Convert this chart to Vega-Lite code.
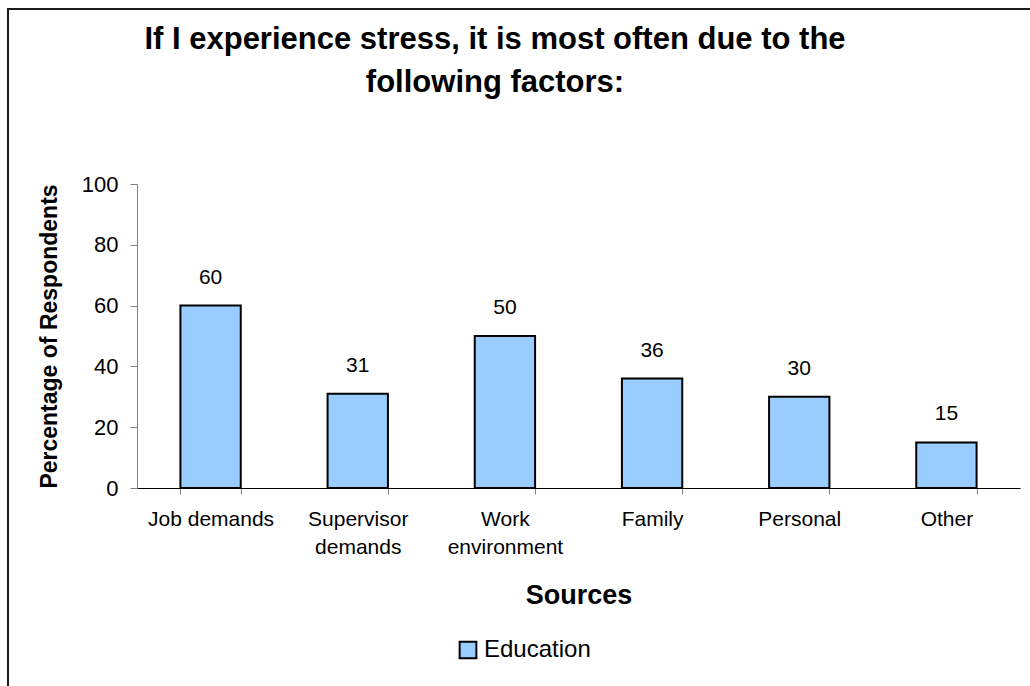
{
  "$schema": "https://vega.github.io/schema/vega-lite/v6.json",
  "width": 1040,
  "height": 700,
  "autosize": {"type": "none"},
  "padding": {"left": 8, "top": 9, "right": 0, "bottom": 0},
  "background": "white",
  "config": {
    "font": "Liberation Sans",
    "view": {"stroke": "#1a1a1a", "strokeWidth": 2, "fill": "white"}
  },
  "title": {
    "text": ["If I experience stress, it is most often due to the", "following factors:"],
    "font": "Liberation Sans",
    "fontSize": 31,
    "fontWeight": "bold",
    "color": "black",
    "anchor": "middle",
    "frame": "group",
    "baseline": "top",
    "dx": -33,
    "dy": 73,
    "offset": -17,
    "lineHeight": 43
  },
  "data": {
    "values": [
      {"source": "Job demands", "pct": 60, "series": "Education"},
      {"source": "Supervisor demands", "pct": 31, "series": "Education"},
      {"source": "Work environment", "pct": 50, "series": "Education"},
      {"source": "Family", "pct": 36, "series": "Education"},
      {"source": "Personal", "pct": 30, "series": "Education"},
      {"source": "Other", "pct": 15, "series": "Education"}
    ]
  },
  "encoding": {
    "x": {
      "field": "source",
      "type": "nominal",
      "sort": null,
      "scale": {"range": [129, 1012], "paddingInner": 0.59, "paddingOuter": 0.295},
      "axis": {
        "title": "Sources",
        "titleFontSize": 27,
        "titleFontWeight": "bold",
        "titleColor": "black",
        "titlePadding": 25,
        "labelAngle": 0,
        "labelFontSize": 21,
        "labelColor": "black",
        "labelPadding": 14,
        "labelLineHeight": 28,
        "labelLimit": 0,
        "labelExpr": "datum.value == 'Supervisor demands' ? ['Supervisor', 'demands'] : datum.value == 'Work environment' ? ['Work', 'environment'] : datum.value",
        "tickBand": "extent",
        "tickColor": "#808080",
        "tickSize": 6,
        "domainColor": "black",
        "grid": false,
        "offset": -221
      }
    },
    "y": {
      "field": "pct",
      "type": "quantitative",
      "scale": {"domain": [0, 100], "range": [479, 175], "nice": false},
      "axis": {
        "title": "Percentage of Respondents",
        "titleFontSize": 23,
        "titleFontWeight": "bold",
        "titleColor": "black",
        "titlePadding": 20,
        "labelFontSize": 22,
        "labelColor": "black",
        "labelPadding": 12,
        "values": [0, 20, 40, 60, 80, 100],
        "tickColor": "#808080",
        "tickSize": 7,
        "domainColor": "#808080",
        "grid": false,
        "offset": -129
      }
    }
  },
  "layer": [
    {
      "mark": {"type": "bar", "stroke": "black", "strokeWidth": 2},
      "encoding": {
        "color": {
          "field": "series",
          "type": "nominal",
          "scale": {"range": ["#99CCFF"]},
          "legend": {
            "title": null,
            "orient": "none",
            "legendX": 448,
            "legendY": 629,
            "padding": 0,
            "symbolType": "square",
            "symbolSize": 280,
            "symbolStrokeColor": "black",
            "symbolStrokeWidth": 2,
            "labelFontSize": 24,
            "labelColor": "black",
            "labelOffset": 4
          }
        }
      }
    },
    {
      "mark": {"type": "text", "dy": -22, "baseline": "alphabetic", "fontSize": 21, "color": "black"},
      "encoding": {"text": {"field": "pct", "type": "quantitative"}}
    }
  ]
}
